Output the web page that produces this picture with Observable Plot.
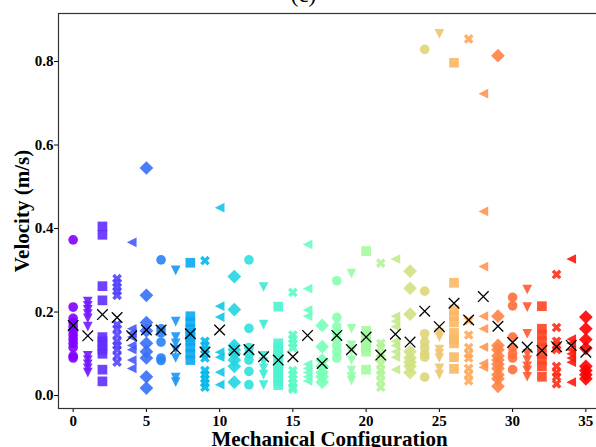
<!DOCTYPE html>
<html><head><meta charset="utf-8">
<script src="https://cdn.jsdelivr.net/npm/d3@7"></script>
<script src="https://cdn.jsdelivr.net/npm/@observablehq/plot@0.6"></script>
<style>html,body{margin:0;padding:0;background:#fff;overflow:hidden}</style>
</head><body><div id="chart"></div>
<script>
// Velocity samples per mechanical configuration (index = configuration number)
const velocities = [
  [0.373, 0.212, 0.185, 0.175, 0.165, 0.155, 0.145, 0.135, 0.125, 0.115, 0.095, 0.09],
  [0.225, 0.215, 0.205, 0.195, 0.185, 0.165, 0.095, 0.085, 0.075, 0.065, 0.055],
  [0.405, 0.385, 0.262, 0.228, 0.14, 0.13, 0.12, 0.11, 0.10, 0.062, 0.034],
  [0.28, 0.27, 0.26, 0.25, 0.24, 0.17, 0.16, 0.145, 0.13, 0.12, 0.11, 0.095, 0.08],
  [0.367, 0.16, 0.15, 0.14, 0.12, 0.11, 0.085, 0.065],
  [0.545, 0.24, 0.175, 0.155, 0.125, 0.105, 0.09, 0.045, 0.018],
  [0.325, 0.16, 0.15, 0.128, 0.09, 0.084],
  [0.30, 0.177, 0.14, 0.125, 0.11, 0.09, 0.043, 0.032],
  [0.318, 0.19, 0.175, 0.16, 0.15, 0.14, 0.13, 0.115, 0.1, 0.085],
  [0.323, 0.13, 0.12, 0.11, 0.1, 0.09, 0.06, 0.05, 0.04, 0.03, 0.02],
  [0.45, 0.214, 0.188, 0.104, 0.092, 0.056, 0.026],
  [0.285, 0.206, 0.12, 0.11, 0.1, 0.085, 0.07, 0.032],
  [0.325, 0.161, 0.115, 0.10, 0.085, 0.058, 0.026],
  [0.26, 0.17, 0.095, 0.08, 0.065, 0.05, 0.025],
  [0.213, 0.125, 0.115, 0.105, 0.095, 0.085, 0.075, 0.065, 0.055, 0.045, 0.035, 0.025],
  [0.247, 0.145, 0.135, 0.125, 0.115, 0.06, 0.05, 0.04, 0.03, 0.02, 0.015],
  [0.362, 0.256, 0.205, 0.19, 0.075, 0.065, 0.055, 0.045, 0.035],
  [0.168, 0.117, 0.085, 0.07, 0.055, 0.045, 0.032],
  [0.275, 0.187, 0.165, 0.15, 0.135, 0.12, 0.105, 0.09],
  [0.292, 0.16, 0.12, 0.105, 0.085, 0.06, 0.045, 0.036],
  [0.346, 0.155, 0.145, 0.135, 0.125, 0.115, 0.105, 0.062],
  [0.317, 0.125, 0.115, 0.1, 0.09, 0.075, 0.06, 0.05, 0.035, 0.02],
  [0.327, 0.19, 0.178, 0.165, 0.13, 0.12, 0.105, 0.092, 0.062],
  [0.298, 0.257, 0.195, 0.105, 0.09, 0.08, 0.07, 0.055],
  [0.829, 0.25, 0.148, 0.128, 0.115, 0.10, 0.092, 0.044],
  [0.866, 0.15, 0.14, 0.11, 0.10, 0.09, 0.065, 0.05],
  [0.797, 0.27, 0.205, 0.19, 0.175, 0.15, 0.135, 0.125, 0.092, 0.064],
  [0.854, 0.18, 0.145, 0.115, 0.1, 0.09, 0.065, 0.05, 0.035],
  [0.723, 0.441, 0.309, 0.19, 0.16, 0.116, 0.077, 0.068],
  [0.814, 0.19, 0.12, 0.11, 0.095, 0.085, 0.075, 0.065, 0.05, 0.04, 0.022],
  [0.235, 0.215, 0.14, 0.115, 0.1, 0.09, 0.062],
  [0.254, 0.212, 0.148, 0.1, 0.085, 0.07, 0.06, 0.045],
  [0.214, 0.16, 0.145, 0.13, 0.115, 0.1, 0.085, 0.07, 0.045],
  [0.29, 0.163, 0.13, 0.12, 0.11, 0.07, 0.055, 0.045, 0.028],
  [0.327, 0.135, 0.125, 0.11, 0.1, 0.09, 0.08, 0.032],
  [0.188, 0.16, 0.134, 0.113, 0.07, 0.06, 0.05, 0.04]
];
// Mean velocity per configuration (black x markers)
const meanVelocity = [0.168, 0.143, 0.194, 0.187, 0.143, 0.157, 0.157, 0.112, 0.148, 0.104,
  0.157, 0.108, 0.11, 0.093, 0.085, 0.093, 0.144, 0.077, 0.144, 0.11,
  0.14, 0.097, 0.147, 0.128, 0.202, 0.165, 0.221, 0.181, 0.237, 0.166,
  0.127, 0.116, 0.108, 0.117, 0.12, 0.104];
const xTickValues = [0, 5, 10, 15, 20, 25, 30, 35];
const yTickValues = [0, 0.2, 0.4, 0.6, 0.8];
const markerShapes = ["circle", "triangleDown", "square", "xFilled", "triangleLeft", "diamond"];
const titleText = "(c)";
const xLabel = "Mechanical Configuration";
const yLabel = "Velocity (m/s)";

const points = velocities.flatMap((vals, config) =>
  vals.map(v => ({config, v, shape: markerShapes[config % markerShapes.length]})));
const means = meanVelocity.map((v, config) => ({config, v}));

const rad = s => Math.sqrt(s / Math.PI);
function poly(c, pts) {
  c.moveTo(pts[0][0], pts[0][1]);
  for (let i = 1; i < pts.length; i++) c.lineTo(pts[i][0], pts[i][1]);
  c.closePath();
}
const symbols = {
  circle: "circle",
  triangleDown: {draw(c, s) { const r = rad(s); poly(c, [[0, r], [-r, -r], [r, -r]]); }},
  square: {draw(c, s) { const r = rad(s); poly(c, [[-r, -r], [r, -r], [r, r], [-r, r]]); }},
  xFilled: {draw(c, s) {
    const r = rad(s) / 2;
    const p = [[-1,-2],[0,-1],[1,-2],[2,-1],[1,0],[2,1],[1,2],[0,1],[-1,2],[-2,1],[-1,0],[-2,-1]];
    poly(c, p.map(([a, b]) => [a * r, b * r]));
  }},
  triangleLeft: {draw(c, s) { const r = rad(s); poly(c, [[-r, 0], [r, -r], [r, r]]); }},
  diamond: {draw(c, s) { const a = rad(s) * Math.SQRT2; poly(c, [[0, -a], [a, 0], [0, a], [-a, 0]]); }}
};
const meanSymbol = {draw(c, s) { const r = rad(s); c.moveTo(-r, -r); c.lineTo(r, r); c.moveTo(r, -r); c.lineTo(-r, r); }};

function mplRainbow(t) {
  const cl = v => Math.max(0, Math.min(1, v));
  const r = cl(Math.abs(2 * t - 0.5)), g = cl(Math.sin(Math.PI * t)), b = cl(Math.cos(Math.PI * t / 2));
  return `rgb(${Math.round(r * 255)},${Math.round(g * 255)},${Math.round(b * 255)})`;
}

const chart = Plot.plot({
  width: 596, height: 447,
  marginLeft: 58, marginRight: -4, marginTop: 13, marginBottom: 39,
  style: {fontFamily: "'Liberation Serif', 'Times New Roman', serif", fontSize: "15px", fontWeight: "bold", color: "black", background: "white"},
  x: {domain: [-1, 36], ticks: xTickValues, tickSize: 4, tickPadding: 3, label: null},
  y: {domain: [-0.031, 0.915], ticks: yTickValues, tickFormat: d3.format(".1f"), tickSize: 4, tickPadding: 1, label: null},
  color: {type: "linear", domain: [0, 35], interpolate: mplRainbow},
  marks: [
    ...markerShapes.map(sh => Plot.dot(points.filter(d => d.shape === sh), {
      x: "config", y: "v", fill: "config", r: 4.85, symbol: symbols[sh], fillOpacity: 0.9
    })),
    Plot.dot(means, {x: "config", y: "v", r: 5.3, symbol: meanSymbol, stroke: "black", fill: "none", strokeWidth: 1.3}),
    Plot.frame({stroke: "#333", strokeWidth: 1.2}),
    Plot.text([yLabel], {frameAnchor: "left", text: d => d, rotate: -90, dx: -36, textAnchor: "middle", lineAnchor: "middle", fontSize: 21, fontWeight: "bold"}),
    Plot.text([xLabel], {frameAnchor: "bottom", text: d => d, dy: 31, textAnchor: "middle", lineAnchor: "middle", fontSize: 21, fontWeight: "bold"}),
    Plot.text([titleText], {frameAnchor: "top", text: d => d, dx: -26, dy: -19, textAnchor: "middle", lineAnchor: "middle", fontSize: 23, fontWeight: "normal"})
  ]
});
document.getElementById("chart").appendChild(chart);
</script>
</body></html>
